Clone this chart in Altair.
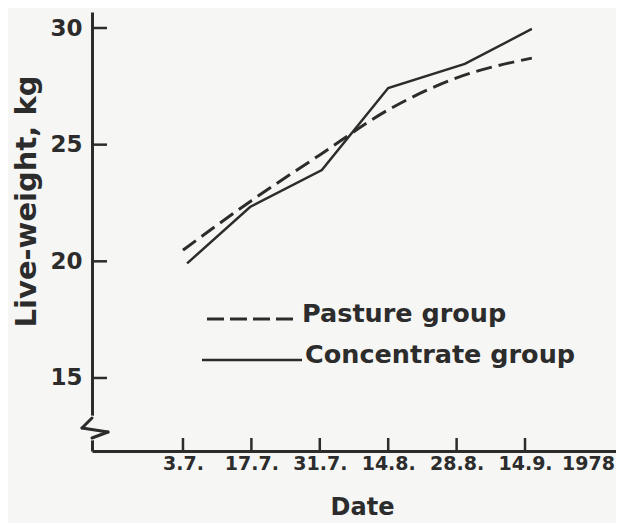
import json
import altair as alt
import pandas as pd

# ---- data ----
dates = ["3.7.", "17.7.", "31.7.", "14.8.", "28.8.", "14.9."]
year_label = "1978"
tick_pos = [0, 1, 2, 3, 4, 5]
year_pos = 5.92

pasture_pos = [0.0, 1.0, 2.0, 3.0, 4.0, 5.1]
pasture_kg = [20.48, 22.60, 24.56, 26.49, 27.86, 28.71]

conc_pos = [0.06, 0.98, 2.03, 3.0, 4.12, 5.10]
conc_kg = [19.91, 22.33, 23.91, 27.43, 28.46, 29.96]

y_ticks = [15, 20, 25, 30]
legend_labels = ["Pasture group", "Concentrate group"]

# ---- style ----
INK = "#2c2c2c"
BG = "#f6f6f4"
FONT = "DejaVu Sans"
W, H = 524, 439
X_DOMAIN = [-1.33, 6.33]
Y_DOMAIN = [11.87, 30.686]

xscale = alt.Scale(domain=X_DOMAIN, nice=False, zero=False)
yscale = alt.Scale(domain=Y_DOMAIN, nice=False, zero=False)

label_expr = json.dumps(dates + [year_label]) + "[round(datum.value)]"

x_axis = alt.Axis(
    values=tick_pos + [year_pos], labelExpr=label_expr, ticks=False, tickSize=0,
    grid=False, domainWidth=3, domainColor=INK, labelColor=INK,
    labelFont=FONT, labelFontWeight="bold", labelFontSize=19, labelPadding=3,
    labelFlush=False, labelOverlap=False,
    title="Date", titleFont=FONT, titleFontWeight="bold", titleFontSize=24,
    titleColor=INK, titleX=270, titleY=63, titleBaseline="alphabetic",
    titleAlign="center",
)
y_axis = alt.Axis(
    values=y_ticks, ticks=False, tickSize=0, grid=False, domainWidth=3,
    domainColor=INK, labelColor=INK, labelFont=FONT, labelFontWeight="bold",
    labelFontSize=23, labelPadding=10,
    title="Live-weight, kg", titleFont=FONT, titleFontWeight="bold",
    titleFontSize=29, titleColor=INK, titleX=-66, titleY=189, titleAngle=270,
    titleAlign="center", titleBaseline="middle",
)

pasture_df = pd.DataFrame({"pos": pasture_pos, "kg": pasture_kg})
conc_df = pd.DataFrame({"pos": conc_pos, "kg": conc_kg})

pasture = alt.Chart(pasture_df).mark_line(
    color=INK, strokeWidth=3, strokeDash=[16, 7], interpolate="monotone"
).encode(
    x=alt.X("pos:Q", scale=xscale, axis=x_axis),
    y=alt.Y("kg:Q", scale=yscale, axis=y_axis),
)

conc = alt.Chart(conc_df).mark_line(color=INK, strokeWidth=2.5).encode(
    x=alt.X("pos:Q"),
    y=alt.Y("kg:Q"),
)

# inward tick marks
ytick_df = pd.DataFrame({"tv": [float(v) for v in y_ticks]})
yticks = alt.Chart(ytick_df).mark_rule(color=INK, strokeWidth=2.5).encode(
    y=alt.Y("tv:Q"), x=alt.value(0), x2=alt.value(15)
)
xtick_df = pd.DataFrame({"p": tick_pos})
xticks = alt.Chart(xtick_df).mark_rule(color=INK, strokeWidth=2.5).encode(
    x=alt.X("p:Q"), y=alt.value(H), y2=alt.value(H - 13)
)

# legend drawn inside the plot
one = pd.DataFrame({"k": [0]})
leg_p_line = alt.Chart(one).mark_rule(color=INK, strokeWidth=3, strokeDash=[17, 6]).encode(
    x=alt.value(115), x2=alt.value(201), y=alt.value(307)
)
leg_c_line = alt.Chart(one).mark_rule(color=INK, strokeWidth=2.5).encode(
    x=alt.value(110), x2=alt.value(210), y=alt.value(348)
)
leg_p_text = alt.Chart(pd.DataFrame({"label": [legend_labels[0]]})).mark_text(
    align="left", baseline="alphabetic", font=FONT, fontWeight="bold",
    fontSize=25.5, color=INK
).encode(x=alt.value(210), y=alt.value(310), text="label:N")
leg_c_text = alt.Chart(pd.DataFrame({"label": [legend_labels[1]]})).mark_text(
    align="left", baseline="alphabetic", font=FONT, fontWeight="bold",
    fontSize=25.5, color=INK
).encode(x=alt.value(213), y=alt.value(351), text="label:N")

# axis-break kink on the y-axis line, drawn as short rule segments
def seg(x1, y1, x2, y2, color, width):
    return alt.Chart(one).mark_rule(color=color, strokeWidth=width, strokeCap="round").encode(
        x=alt.value(x1), x2=alt.value(x2), y=alt.value(y1), y2=alt.value(y2)
    )

brk_cover = seg(0, 407, 0.01, 425, BG, 7)
brk1 = seg(0, 406, -10, 416, INK, 3)
brk2 = seg(-10, 416, 16, 420, INK, 3)
brk3 = seg(16, 420, 0, 426, INK, 3)

chart = alt.layer(
    pasture, conc, yticks, xticks,
    leg_p_line, leg_c_line, leg_p_text, leg_c_text,
    brk_cover, brk1, brk2, brk3,
).properties(
    width=W, height=H, background=BG,
    padding={"left": 84, "top": 4, "right": 0, "bottom": 72},
    autosize=alt.AutoSizeParams(type="none"),
).configure_view(stroke=None)

chart.save("out.html", embed_options={"renderer": "svg", "actions": False})
